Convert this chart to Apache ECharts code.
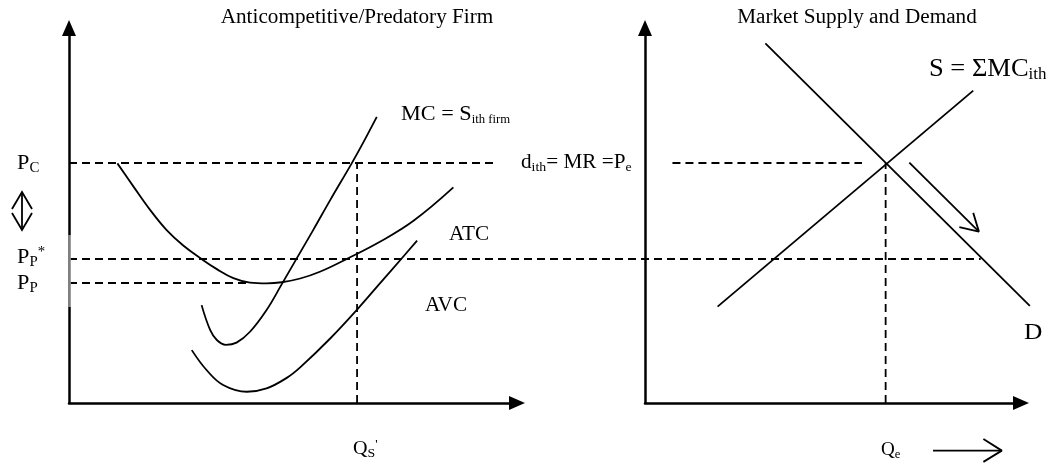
<!DOCTYPE html>
<html>
<head>
<meta charset="utf-8">
<script src="https://cdn.jsdelivr.net/npm/echarts@6/dist/echarts.min.js"></script>
<style>
  html, body { margin: 0; padding: 0; background: #fff; }
  #chart { width: 1051px; height: 463px; }
</style>
</head>
<body>
<div id="chart"></div>
<script>
// price levels, shared by both panels
const P_C = 6.4
const P_PSTAR = 3.84
const P_P = 3.2
// quantities
const Q_S = 6.43
const Q_E = 6.4

// firm cost curves [q, p]
const atcCurve = [[1.08, 6.39], [1.44, 5.77], [1.81, 5.15], [2.18, 4.61], [2.55, 4.2], [2.96, 3.84],
  [3.3, 3.57], [3.67, 3.33], [4.04, 3.21], [4.41, 3.19], [4.75, 3.22], [5.16, 3.32], [5.6, 3.5],
  [6.23, 3.86], [6.94, 4.3], [7.69, 4.86], [8.58, 5.75]]
const mcCurve = [[2.96, 2.61], [3.15, 1.95], [3.3, 1.68], [3.5, 1.55], [3.74, 1.61], [4.04, 1.9],
  [4.41, 2.48], [4.75, 3.17], [5.08, 3.85], [5.45, 4.61], [5.83, 5.41], [6.31, 6.39], [6.57, 6.95],
  [6.87, 7.63]]
const avcCurve = [[2.74, 1.41], [3.07, 0.88], [3.44, 0.48], [3.97, 0.3], [4.41, 0.39], [4.86, 0.67],
  [5.16, 0.95], [5.83, 1.72], [6.46, 2.53], [6.94, 3.19], [7.43, 3.86], [7.77, 4.33]]

// market lines [q, p]
const demandLine = [[3.2, 9.59], [10.23, 2.59]]
const supplyLine = [[1.93, 2.57], [8.73, 8.33]]
const shiftShaft = [[7.03, 6.41], [8.88, 4.57]]
const shiftHead = [[8.36, 4.69], [8.88, 4.57], [8.73, 5.07]]
const qShaft = [[7.66, -1.27], [9.49, -1.27]]
const qHead = [[9.0, -0.96], [9.49, -1.27], [9.0, -1.57]]

// dashed guides
const firmGuides = [
  [[0, P_C], [9.55, P_C]],
  [[0, P_P], [4.05, P_P]],
  [[Q_S, 0], [Q_S, P_C]]
]
// this one runs on across the market panel (firm quantity units)
const predatoryGuide = [[0, P_PSTAR], [20.35, P_PSTAR]]
const marketGuides = [
  [[0.73, P_C], [5.77, P_C]],
  [[Q_E, 0], [Q_E, P_C]]
]
// part of the firm price axis drawn thin
const thinAxis = [[0, 2.56], [0, 4.48]]

const SERIF = '"Liberation Serif", "Times New Roman", serif'
const INK = '#000'

// grid 0/1: visible panels; grid 2/3: hidden wider overlays for lines that run past an axis end
const FIRM = 0, MARKET = 1, WIDE = 2, MARKET_WIDE = 3

function seg(data, g, extra) {
  return Object.assign({
    type: 'line',
    xAxisIndex: g,
    yAxisIndex: g,
    data: data,
    symbol: 'none',
    clip: false,
    silent: true,
    lineStyle: { color: INK, width: 1.8 }
  }, extra)
}

function dashed(data, g) {
  return seg(data, g, { lineStyle: { color: INK, width: 1.8, type: [8, 5] } })
}

function curve(data) {
  return seg(data, FIRM, { smooth: 0.4, lineStyle: { color: INK, width: 1.8 } })
}

function axisCfg(i, max, visible) {
  return {
    type: 'value',
    gridIndex: i,
    min: 0,
    max: max,
    show: visible,
    axisLine: {
      show: true,
      onZero: false,
      symbol: ['none', 'triangle'],
      symbolSize: [14, 16],
      lineStyle: { color: INK, width: 2.5 }
    },
    axisTick: { show: false },
    axisLabel: { show: false },
    splitLine: { show: false }
  }
}

// rich text styles
function rich(base, sub) {
  return {
    b: { fontFamily: SERIF, fontSize: base, lineHeight: base + 3, fill: INK },
    s: { fontFamily: SERIF, fontSize: sub, lineHeight: sub, verticalAlign: 'bottom', fill: INK },
    u: { fontFamily: SERIF, fontSize: sub, lineHeight: sub, verticalAlign: 'top', fill: INK }
  }
}

function txt(x, y, text, base, sub, align) {
  return {
    type: 'text',
    x: x,
    y: y,
    scaleX: 1.06,
    silent: true,
    style: {
      text: text,
      fontFamily: SERIF,
      fontSize: base,
      fill: INK,
      align: align || 'left',
      verticalAlign: 'middle',
      rich: rich(base, sub || 13)
    }
  }
}

function poly(points) {
  return {
    type: 'polyline',
    silent: true,
    shape: { points: points },
    style: { stroke: INK, lineWidth: 1.8, fill: null }
  }
}

const series = []
firmGuides.forEach(d => series.push(dashed(d, FIRM)))
series.push(dashed(predatoryGuide, WIDE))
marketGuides.forEach(d => series.push(dashed(d, MARKET)))
series.push(seg(thinAxis, FIRM, { lineStyle: { color: '#fff', width: 3 } }))
series.push(seg(thinAxis, FIRM, { lineStyle: { color: INK, width: 1 } }))
series.push(curve(atcCurve), curve(mcCurve), curve(avcCurve))
series.push(seg(demandLine, MARKET_WIDE), seg(supplyLine, MARKET))
series.push(seg(shiftShaft, MARKET), seg(shiftHead, MARKET))
series.push(seg(qShaft, MARKET), seg(qHead, MARKET))

const chart = echarts.init(document.getElementById('chart'))
chart.setOption({
  backgroundColor: '#fff',
  animation: false,
  grid: [
    { left: 69, top: 28, width: 448, height: 375, outerBoundsMode: 'none' },
    { left: 645, top: 28, width: 376, height: 375, outerBoundsMode: 'none' },
    { left: 69, top: 28, width: 960, height: 375, outerBoundsMode: 'none' },
    { left: 645, top: 28, width: 395, height: 375, outerBoundsMode: 'none' }
  ],
  xAxis: [axisCfg(0, 10, true), axisCfg(1, 10, true), axisCfg(2, 960 / 44.8, false), axisCfg(3, 10.5, false)],
  yAxis: [axisCfg(0, 10, true), axisCfg(1, 10, true), axisCfg(2, 10, false), axisCfg(3, 10, false)],
  series: series,
  graphic: [
    txt(357, 18, 'Anticompetitive/Predatory Firm', 20, 13, 'center'),
    txt(857, 18, 'Market Supply and Demand', 20, 13, 'center'),
    txt(401, 114, '{b|MC = S}{s|ith firm}', 21, 12),
    txt(449, 235, 'ATC', 20),
    txt(425, 306, 'AVC', 20),
    txt(521, 163, '{b|d}{s|ith}{b|= MR =P}{s|e}', 20, 13),
    txt(929, 69, '{b|S = ΣMC}{s|ith}', 25, 16),
    txt(1024, 333, 'D', 24),
    txt(17, 163, '{b|P}{s|C}', 21, 14),
    txt(17, 257, '{b|P}{s|P}{u|*}', 21, 14),
    txt(17, 283, '{b|P}{s|P}', 21, 14),
    txt(353, 449, '{b|Q}{s|S}{u|\'}', 19, 13),
    txt(881, 450, '{b|Q}{s|e}', 18, 12),
    // up/down marker between the two prices
    poly([[12, 209], [22, 192], [32, 209]]),
    poly([[12, 213], [22, 230], [32, 213]]),
    poly([[22, 192], [22, 230]])
  ]
})
</script>
</body>
</html>
